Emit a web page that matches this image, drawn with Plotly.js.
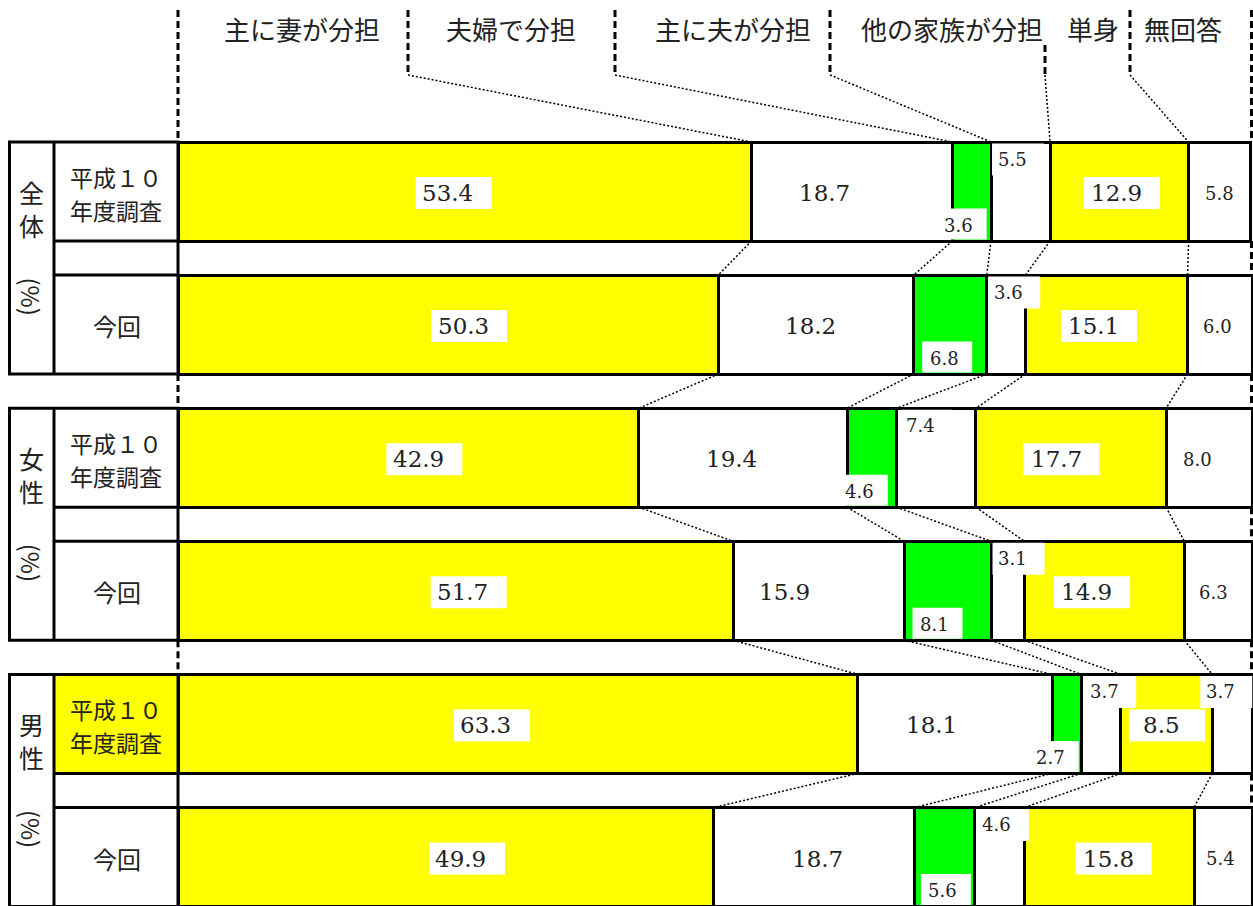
<!DOCTYPE html>
<html><head><meta charset="utf-8">
<script src="https://cdn.plot.ly/plotly-3.0.1.min.js"></script>
<style>html,body{margin:0;padding:0;background:#fff;overflow:hidden}#chart{width:1253px;height:906px}</style>
</head><body><div id="chart"></div>
<script>
// ---------------- data ----------------
const groups = ['全体', '女性', '男性'];
const surveys = ['平成１０年度調査', '今回'];
const unitLabel = '(%)';
const categories = ['主に妻が分担', '夫婦で分担', '主に夫が分担', '他の家族が分担', '単身', '無回答'];
const wifeShare    = [53.4, 50.3, 42.9, 51.7, 63.3, 49.9];
const coupleShare  = [18.7, 18.2, 19.4, 15.9, 18.1, 18.7];
const husbandShare = [3.6, 6.8, 4.6, 8.1, 2.7, 5.6];
const familyShare  = [5.5, 3.6, 7.4, 3.1, 3.7, 4.6];
const singleShare  = [12.9, 15.1, 17.7, 14.9, 8.5, 15.8];
const noAnswer     = [5.8, 6.0, 8.0, 6.3, 3.7, 5.4];

// ---------------- layout / style ----------------
const series = [wifeShare, coupleShare, husbandShare, familyShare, singleShare, noAnswer];
const colors = ['#FFFF00', '#FFFFFF', '#00FF00', '#FFFFFF', '#FFFF00', '#FFFFFF'];
const W = 1253, H = 906;
const ORIGIN_PX = 178, PX_PER_PCT = 10.74;
const ROW0_PX = 191.5, PX_PER_ROW = 133.1, BAR_PX = 99;
const X = p => (p - ORIGIN_PX) / PX_PER_PCT;
const Y = p => (p - ROW0_PX) / PX_PER_ROW;
const dX = p => p / PX_PER_PCT, dY = p => p / PX_PER_ROW;
const hw = dY(BAR_PX / 2);
const JP = '"Noto Sans CJK JP", sans-serif';
const NUM = '"DejaVu Serif", serif';
const TXT = '#222';

const rowIdx = [];
groups.forEach((g, gi) => surveys.forEach((s, si) => rowIdx.push(gi * 2 + si)));

// label placement styling (pixel nudges, not data)
const labelMode = ['mid', 'mid', 'bottom', 'top', 'mid', 'mid'];
const modeOverride = {'4,5': 'top'};
const labelDx = [
  [-17, 15, 10, 7, -32, 15],
  [-27, -5, -11, -34, -24, 3],
  [-13, -6, -12, -13, -16, -2],
  [21, 21.5, 24, 21.5, 23, 22],
  [-3, -13, -15, -18, -5, -1],
  [0, -2, -12, -5, 8, -3]
];
const bigFont = [true, true, false, false, true, false];
const midBox = [{w: 76, h: 32, off: 6}, null, null, null, {w: 76, h: 32, off: 5.5}, null];

// cumulative boundaries
const cum = rowIdx.map(r => {
  const acc = [0];
  series.forEach(s => acc.push(acc[acc.length - 1] + s[r]));
  return acc;
});

// ---------------- traces ----------------
const traces = series.map((vals, s) => ({
  type: 'bar', orientation: 'h', name: categories[s],
  x: vals, y: rowIdx, width: dY(BAR_PX),
  marker: {color: colors[s], line: {color: '#000', width: 3}},
  hoverinfo: 'skip', showlegend: false
}));

// series lines between consecutive bars
const slx = [], sly = [];
for (let r = 0; r < rowIdx.length - 1; r++) {
  for (let k = 1; k < categories.length; k++) {
    slx.push(cum[r][k], cum[r + 1][k], null);
    sly.push(r + hw, r + 1 - hw, null);
  }
}
traces.push({type: 'scatter', mode: 'lines', x: slx, y: sly, line: {color: '#000', width: 1.5, dash: '2px,2px'},
  hoverinfo: 'skip', showlegend: false, cliponaxis: false});

// ---------------- shapes ----------------
const shapes = [];
const ln = (x0, y0, x1, y1, extra = {}) => shapes.push({type: 'line', xref: 'x', yref: 'y', x0, y0, x1, y1, layer: 'above',
  line: Object.assign({color: '#000', width: 3}, extra)});
const rect = (x0, y0, x1, y1, fill, lw) => shapes.push({type: 'rect', xref: 'x', yref: 'y', x0, y0, x1, y1, layer: 'above',
  fillcolor: fill, line: {color: '#000', width: lw}});

groups.forEach((g, gi) => {
  const r0 = gi * 2, r1 = gi * 2 + 1;
  if (gi === 2) rect(X(54), r0 - hw, 0, r0 + hw, '#FFFF00', 0);
  rect(X(9.5), r0 - hw, 0, r1 + hw, 'rgba(0,0,0,0)', 3);
  ln(X(54), r0 - hw, X(54), r1 + hw);
  ln(X(54), r0 + hw, 0, r0 + hw);
  ln(X(54), r1 - hw, 0, r1 - hw);
});

const DASH = {dash: '7px,4px'};
// dashed verticals at left and right edges
ln(0, Y(10), 0, -hw, DASH);
ln(0, 1 + hw, 0, 2 - hw, DASH);
ln(0, 3 + hw, 0, 4 - hw, DASH);
const RX = X(1251.5);
ln(RX, Y(10), RX, -hw, DASH);
for (let r = 0; r < rowIdx.length - 1; r++) ln(RX, r + hw, RX, r + 1 - hw, DASH);
// header separators and leaders to first bar
const sepPx = [408, 615, 830, 1045, 1130];
const sepTop = [10, 10, 10, 45, 10];
sepPx.forEach((p, i) => {
  ln(X(p), Y(sepTop[i]), X(p), Y(75), DASH);
  ln(X(p), Y(75), cum[0][i + 1], -hw, {width: 1.5, dash: '2px,2px'});
});

// ---------------- annotations ----------------
const annotations = [];
const ann = (x, y, text, size, family, extra = {}) => annotations.push(Object.assign({
  x, y, xref: 'x', yref: 'y', text, showarrow: false, xanchor: 'center', yanchor: 'middle',
  font: {size, family, color: TXT}}, extra));

// header
const headPx = [301.5, 511, 732.5, 951.5, 1092.5, 1182.5];
categories.forEach((c, i) => ann(X(headPx[i]), Y(28), c, 26, JP));

// row labels
rowIdx.forEach(r => {
  const lab = surveys[r % 2];
  if (lab.length > 4) {
    ann(X(116), r + dY(-14.5), lab.slice(0, 4), 23, JP);
    ann(X(116), r + dY(18.5), lab.slice(4), 23, JP);
  } else {
    ann(X(117), r + dY(1), lab, 24, JP);
  }
});

// group labels (vertical)
groups.forEach((g, gi) => {
  const top = gi * 2 - hw;
  ann(X(31.5), top + dY(66), [...g].join('<br>'), 25, JP);
  ann(X(31.5), top + dY(154), unitLabel, 24, JP, {textangle: 90});
});

// value labels with white boxes
series.forEach((vals, s) => {
  rowIdx.forEach(r => {
    const segL = cum[r][s], segR = cum[r][s + 1], segC = (segL + segR) / 2;
    const mode = modeOverride[r + ',' + s] || labelMode[s];
    const anchor = mode === 'top' ? segL : segC;
    const tx = anchor + dX(labelDx[s][r]);
    let ty;
    if (mode === 'mid') {
      ty = r + dY(1.5);
      const b = midBox[s];
      if (b) {
        const cx = tx + dX(b.off);
        rect(cx - dX(b.w / 2), ty - dY(b.h / 2), cx + dX(b.w / 2), ty + dY(b.h / 2), '#FFFFFF', 0);
      }
    } else if (mode === 'bottom') {
      ty = r + hw - dY(16);
      const cx = tx + dX(3), y1 = r + hw - dY(1.5);
      rect(cx - dX(25), y1 - dY(31), cx + dX(25), y1, '#FFFFFF', 0);
    } else {
      ty = r - hw + dY(17);
      const x0 = tx - dX(20), y0 = r - hw + dY(1.5);
      rect(x0, y0, x0 + dX(52), y0 + dY(32), '#FFFFFF', 0);
    }
    ann(tx, ty, vals[r].toFixed(1), bigFont[s] ? 23 : 18, NUM);
  });
});

const layout = {
  width: W, height: H,
  margin: {l: 0, r: 0, t: 0, b: 0, pad: 0},
  paper_bgcolor: '#fff', plot_bgcolor: '#fff',
  barmode: 'stack', bargap: 0,
  showlegend: false,
  xaxis: {range: [X(0), X(W)], visible: false, fixedrange: true},
  yaxis: {range: [Y(H), Y(0)], visible: false, fixedrange: true},
  shapes, annotations
};
Plotly.newPlot('chart', traces, layout, {displayModeBar: false, staticPlot: true});
</script></body></html>
